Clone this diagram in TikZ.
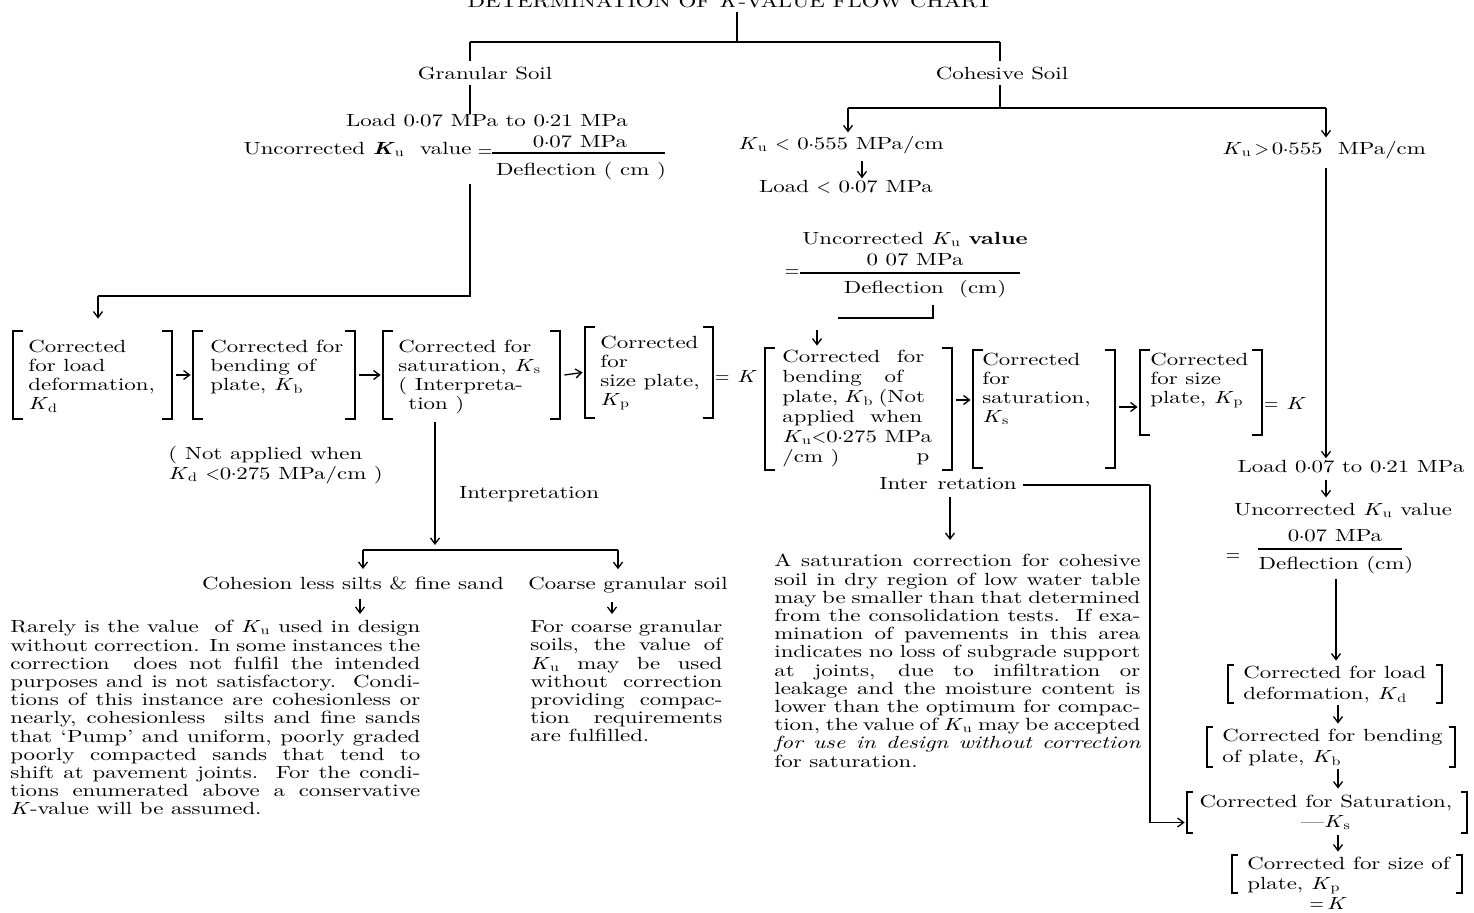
\documentclass[tikz,border=0pt]{standalone}
\usepackage{fontspec}
\setmainfont{lmroman10}[Extension=.otf, UprightFont=*-regular, BoldFont=*-bold, ItalicFont=*-italic, BoldItalicFont=*-bolditalic, FakeStretch=1.3]
\usetikzlibrary{arrows.meta,fit}
\newcommand{\KK}[1]{\textit{K}\textsubscript{#1}}
\newcommand{\KB}[1]{\textbf{\textit{K}}\textsubscript{#1}}
\newcommand{\PL}[2]{\makebox[#1][s]{#2}}
\newcommand{\pd}{\kern-0.04em\raisebox{0.5ex}{.}\kern-0.04em}
\newcommand{\brackets}[2][5pt]{%
  \draw[brk] ([xshift=#1]#2.north west) -| (#2.south west) -- ++(#1,0pt);
  \draw[brk] ([xshift=-#1]#2.north east) -| (#2.south east) -- ++(-#1,0pt);}
\tikzset{
  txt/.style={inner sep=0pt, font=\fontsize{8.8}{9.1}\selectfont},
  lbl/.style={txt, anchor=base},
  para/.style={txt, anchor=north west, align=left},
  boxtxt/.style={txt, anchor=north west, align=left, font=\fontsize{8.8}{9.5}\selectfont},
  conn/.style={line width=0.65pt},
  arr/.style={conn, -{Straight Barb[length=3pt,width=4.5pt]}},
  brk/.style={line width=0.95pt},
  bframe/.style={inner sep=0pt, draw=none},
}
\begin{document}
\begin{tikzpicture}[x=0.5pt,y=-0.5pt]
\useasboundingbox (0,0) rectangle (1474,913);
\fill[white] (0,0) rectangle (1474,913);

% ---------- top ----------
\node[lbl] (title) at (730,8) {DETERMINATION OF \textit{K}-VALUE FLOW CHART};
\node[lbl] (gran) at (485,80) {Granular Soil};
\node[lbl] (cohe) at (1002,80) {Cohesive Soil};
\coordinate (tA) at (737,12);
\coordinate (tB) at (737,42);
\coordinate (jL) at (470,42);
\coordinate (jR) at (1000,42);
\draw[conn] (tA) -- (tB);
\draw[conn] (jL) -- (jR);
\draw[conn, shorten >=3pt] (jL) -- (jL |- gran.north);
\draw[conn, shorten >=3pt] (jR) -- (jR |- cohe.north);

% ---------- granular branch ----------
\node[lbl] (load1) at (487,127) {Load 0\pd07 MPa to 0\pd21 MPa};
\node[txt, anchor=base east] (unc1) at (472,155) {Uncorrected \KB{u}\ \ value};
\node[lbl] (eq1) at (485,157) {$=$};
\node[lbl] (num1) at (580,148) {0\pd07 MPa};
\node[lbl] (den1) at (581,176) {Deflection ( cm )};
\draw[conn] (492,153) -- (665,153);
\draw[conn, shorten <=2pt] (gran.south -| jL) -- (load1.north -| jL);

\node[bframe, fit={(13,331) (172,419)}] (b1) {};
\node[bframe, fit={(193,331) (355,419)}] (b2) {};
\node[bframe, fit={(383,331) (560,419)}] (b3) {};
\node[bframe, fit={(585,327) (713,418)}] (b4) {};
\brackets{b1}\brackets{b2}\brackets{b3}\brackets{b4}
\node[boxtxt] (t1) at (28,340) {Corrected\\for load\\deformation,\\\KK{d}};
\node[boxtxt] (t2) at (210,340) {Corrected for\\bending of\\plate, \KK{b}};
\node[boxtxt] (t3) at (398,340) {Corrected for\\saturation, \KK{s}\\( Interpreta-\\\hspace*{5pt}tion )};
\node[boxtxt] (t4) at (600,336) {Corrected\\for\\size plate,\\\KK{p}};
\node[lbl] (eqK1) at (736,383) {$=$ \textit{K}};

\coordinate (g1) at (470,184);
\coordinate (g2) at (470,296);
\coordinate (g3) at (98,296);
\draw[conn] (g1) -- (g2) -- (g3);
\draw[arr] (g3) -- ([yshift=6pt]b1.north -| g3);
\draw[arr] ([xshift=2pt]b1.east) -- ([xshift=-1pt]b2.west);
\draw[arr] ([xshift=2pt]b2.east) -- ([xshift=-1pt]b3.west);
\draw[arr] ([xshift=2pt]b3.east) -- ([xshift=-1pt]b4.west);

\node[para, font=\fontsize{8.8}{10}\selectfont] (na) at (168,446) {( Not applied when\\\KK{d} $<$0\pd275 MPa/cm )};

\coordinate (iv) at (435,545);
\draw[arr, shorten <=1.5pt] (b3.south -| iv) -- (iv);
\node[lbl] (interp1) at (529,499) {Interpretation};
\coordinate (sL) at (363,550);
\coordinate (sR) at (618,550);
\draw[conn] (sL) -- (sR);
\node[lbl] (cls) at (353,590) {Cohesion less silts \& fine sand};
\node[lbl] (cgs) at (628,590) {Coarse granular soil};
\draw[arr, shorten >=4pt] (sL) -- (sL |- cls.north);
\draw[arr, shorten >=4pt] (sR) -- (sR |- cgs.north);

\node[para] (lp) at (10,620) {%
\PL{205pt}{Rarely is the value\ \ of \KK{u} used in design}\\
\PL{205pt}{without correction. In some instances the}\\
\PL{205pt}{correction\ \ does not fulfil the intended}\\
\PL{205pt}{purposes and is not satisfactory.\ \ Condi-}\\
\PL{205pt}{tions of this instance are cohesionless or}\\
\PL{205pt}{nearly, cohesionless\ \ silts and fine sands}\\
\PL{205pt}{that ‘Pump’ and uniform, poorly graded}\\
\PL{205pt}{poorly compacted sands that tend to}\\
\PL{205pt}{shift at pavement joints.\ \ For the condi-}\\
\PL{205pt}{tions enumerated above a conservative}\\
\textit{K}-value will be assumed.};
\node[para] (cp) at (530,620) {%
\PL{96pt}{For coarse granular}\\
\PL{96pt}{soils, the value of}\\
\PL{96pt}{\KK{u} may be used}\\
\PL{96pt}{without correction}\\
\PL{96pt}{providing compac-}\\
\PL{96pt}{tion requirements}\\
are fulfilled.};
\coordinate (xa) at (360,0);
\coordinate (xb) at (612,0);
\draw[arr, shorten <=4pt, shorten >=3pt] (cls.south -| xa) -- (lp.north -| xa);
\draw[arr, shorten <=4pt, shorten >=3pt] (cgs.south -| xb) -- (cp.north -| xb);

% ---------- cohesive branch ----------
\coordinate (cjt) at (1000,108);
\coordinate (cL) at (848,108);
\coordinate (cR) at (1326,108);
\draw[conn, shorten <=2pt] (cohe.south -| cjt) -- (cjt);
\draw[conn] (cL) -- (cR);
\node[lbl] (ku1) at (841,150) {\KK{u} $<$ 0\pd555 MPa/cm};
\node[lbl] (ku2) at (1324,155) {\KK{u}\,$>$\,0\pd555\ \ MPa/cm};
\draw[arr, shorten >=2pt] (cL) -- (cL |- ku1.north);
\draw[arr, shorten >=2pt] (cR) -- (cR |- ku2.north);
\node[lbl] (load2) at (846,193) {Load $<$ 0\pd07 MPa};
\coordinate (xc) at (862,0);
\draw[arr, shorten <=3pt, shorten >=1pt] (ku1.south -| xc) -- (load2.north -| xc);

\node[lbl] (unc2) at (915,245) {Uncorrected \KK{u} \textbf{value}};
\node[lbl] (eq2) at (792,277) {$=$};
\node[lbl] (num2) at (915,266) {0 07 MPa};
\node[lbl] (den2) at (925,294) {Deflection\ \ (cm)};
\draw[conn] (800,273) -- (1020,273);
\coordinate (m1) at (933,305);
\coordinate (m2) at (933,318);
\coordinate (m3) at (838,318);
\draw[conn] (m1) -- (m2) -- (m3);
\coordinate (m4) at (817,330);

\node[bframe, fit={(765,348) (952,470)}] (b5) {};
\node[bframe, fit={(973,350) (1115,468)}] (b6) {};
\node[bframe, fit={(1140,350) (1262,435)}] (b7) {};
\brackets{b5}\brackets{b6}\brackets{b7}
\draw[arr, shorten >=1pt] (m4) -- (b5.north -| m4);
\node[boxtxt, font=\fontsize{8.8}{10}\selectfont] (t5) at (782,350) {\PL{71pt}{Corrected for}\\bending\ \ \ of\\\PL{71pt}{plate, \KK{b} (Not}\\applied\ \ when\\\KK{u}$<$0\pd275 MPa\\/cm )};
\node[lbl] (pp) at (923,462) {p};
\node[boxtxt] (t6) at (982,353) {Corrected\\for\\saturation,\\\KK{s}};
\node[boxtxt] (t7) at (1150,353) {Corrected\\for size\\plate, \KK{p}};
\node[lbl] (eqK2) at (1285,410) {$=$ \textit{K}};
\draw[arr] ([xshift=2pt,yshift=4.5pt]b5.east) -- ([xshift=-1pt,yshift=4.5pt]b6.west);
\draw[arr] ([xshift=2pt,yshift=1pt]b6.east) -- ([xshift=-1pt,yshift=1pt]b6.east -| b7.west);

\node[lbl] (interp2) at (948,490) {Inter\hspace{5pt}retation};
\coordinate (v1) at (1150,485);
\draw[conn, shorten <=3pt] (interp2.east |- v1) -- (v1);
\node[para] (mp) at (774,554) {%
\PL{183pt}{A saturation correction for cohesive}\\
\PL{183pt}{soil in dry region of low water table}\\
\PL{183pt}{may be smaller than that determined}\\
\PL{183pt}{from the consolidation tests.\ \ If exa-}\\
\PL{183pt}{mination of pavements in this area}\\
\PL{183pt}{indicates no loss of subgrade support}\\
\PL{183pt}{at joints, due to infiltration or}\\
\PL{183pt}{leakage and the moisture content is}\\
\PL{183pt}{lower than the optimum for compac-}\\
\PL{183pt}{tion, the value of \KK{u} may be accepted}\\
\PL{183pt}{\itshape for use in design without correction}\\
for saturation.};
\coordinate (xd) at (950,0);
\draw[arr, shorten <=3pt, shorten >=7pt] (interp2.south -| xd) -- (mp.north -| xd);

% ---------- right column ----------
\node[lbl] (load3) at (1351,473) {Load 0\pd07 to 0\pd21 MPa};
\draw[arr, shorten <=4pt, shorten >=1pt] (ku2.south -| cR) -- (load3.north -| cR);
\node[lbl] (unc3) at (1343,516) {Uncorrected \KK{u} value};
\draw[arr, shorten <=3pt, shorten >=3pt] (load3.south -| cR) -- (unc3.north -| cR);
\node[lbl] (eq3) at (1233,561) {$=$};
\node[lbl] (num3) at (1335,542) {0\pd07 MPa};
\node[lbl] (den3) at (1336,570) {Deflection (cm)};
\draw[conn] (1258,549) -- (1402,549);

\node[bframe, fit={(1228,665) (1442,703)}] (r1) {};
\node[bframe, fit={(1207,727) (1455,767)}] (r2) {};
\node[bframe, fit={(1187,792) (1467,833)}] (r3) {};
\node[bframe, fit={(1232,855) (1462,893)}] (r4) {};
\brackets[3pt]{r1}\brackets[3pt]{r2}\brackets[3pt]{r3}\brackets[3pt]{r4}
\node[boxtxt, font=\fontsize{8.8}{10.5}\selectfont] (rt1) at (1243,666) {Corrected for load\\deformation, \KK{d}};
\node[boxtxt, font=\fontsize{8.8}{10.5}\selectfont] (rt2) at (1222,729) {Corrected for bending\\of plate, \KK{b}};
\node[txt, anchor=north, align=center, font=\fontsize{8.8}{10}\selectfont] (rt3) at (1326,795) {Corrected for Saturation,\\—\KK{s}};
\node[boxtxt, font=\fontsize{8.8}{10}\selectfont] (rt4) at (1247,857) {Corrected for size of\\plate, \KK{p}};
\node[lbl] (eqK3) at (1328,910) {$=$\,\textit{K}};

\draw[arr, shorten <=2pt, shorten >=2pt] (den3.south) -- (r1.north -| den3.south);
\coordinate (xe) at (1338,0);
\draw[arr, shorten <=1pt, shorten >=1.5pt] (r1.south -| xe) -- (r2.north -| xe);
\draw[arr, shorten <=1pt, shorten >=1.5pt] (r2.south -| xe) -- (r3.north -| xe);
\draw[arr, shorten <=1pt, shorten >=1.5pt] (r3.south -| xe) -- (r4.north -| xe);
\draw[arr, shorten >=1pt] (v1) |- ([yshift=-5pt]r3.west);
\end{tikzpicture}
\end{document}
